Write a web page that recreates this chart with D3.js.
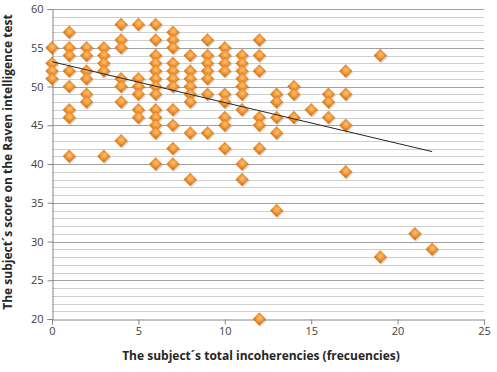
<!DOCTYPE html>
<html>
<head>
<meta charset="utf-8">
<script src="https://cdn.jsdelivr.net/npm/d3@7"></script>
<style>
  body { margin: 0; background: #fff; }
  text { font-family: "Open Sans", "Liberation Sans", sans-serif; }
</style>
</head>
<body>
<div id="chart"></div>
<script>
var incoherencies = [0, 1, 2, 3, 4, 5, 6, 7, 8, 9, 10, 11, 12, 13, 14, 15, 16, 17, 19, 21, 22];
var ravenScores = [
  [55, 53, 52, 51],
  [57, 55, 54, 52, 50, 47, 46, 41],
  [55, 54, 52, 51, 49, 48],
  [55, 54, 53, 52, 41],
  [58, 56, 55, 51, 50, 48, 43],
  [58, 51, 50, 49, 47, 46],
  [58, 56, 54, 53, 52, 51, 50, 49, 47, 46, 45, 44, 40],
  [57, 56, 55, 53, 52, 51, 50, 47, 45, 42, 40],
  [54, 52, 51, 50, 49, 48, 44, 38],
  [56, 54, 53, 52, 51, 49, 44],
  [55, 54, 53, 52, 49, 48, 46, 45, 42],
  [54, 53, 52, 51, 50, 49, 47, 40, 38],
  [56, 54, 52, 46, 45, 42, 20],
  [49, 48, 46, 44, 34],
  [50, 49, 46],
  [47],
  [49, 48, 46],
  [52, 49, 45, 39],
  [54, 28],
  [31],
  [29]
];
// linear trend line end points
var trendX = [0, 22];
var trendY = [53.2, 41.6];

var xTicks = [0, 5, 10, 15, 20, 25];
var yTicks = [20, 25, 30, 35, 40, 45, 50, 55, 60];

var margin = {top: 9, right: 13, bottom: 53, left: 52},
    width = 497 - margin.left - margin.right,
    height = 372 - margin.top - margin.bottom;

var svg = d3.select("#chart")
  .append("svg")
  .attr("width", 497)
  .attr("height", 372);

var g = svg.append("g")
  .attr("transform", "translate(" + margin.left + "," + margin.top + ")");

var x = d3.scaleLinear().domain([0, 25]).range([0, width]);
var y = d3.scaleLinear().domain([20, 60]).range([height, 0]);

// minor gridlines (every unit)
g.append("g")
  .selectAll("line")
  .data(d3.range(21, 60))
  .enter()
  .append("line")
  .attr("x1", 0).attr("x2", width)
  .attr("y1", function(d) { return Math.round(y(d)) + 0.5; })
  .attr("y2", function(d) { return Math.round(y(d)) + 0.5; })
  .attr("stroke", "#cfcfcf")
  .attr("stroke-width", 1);

// major gridlines
g.append("g")
  .selectAll("line")
  .data(yTicks.slice(1))
  .enter()
  .append("line")
  .attr("x1", 0).attr("x2", width)
  .attr("y1", function(d) { return Math.round(y(d)) + 0.5; })
  .attr("y2", function(d) { return Math.round(y(d)) + 0.5; })
  .attr("stroke", "#a0a0a0")
  .attr("stroke-width", 1);

// y axis
var yAxis = g.append("g")
  .attr("transform", "translate(0.5,0)")
  .call(d3.axisLeft(y).tickValues(yTicks).tickSize(5).tickPadding(4));
yAxis.select(".domain").attr("stroke", "#868686");
yAxis.selectAll(".tick line").attr("stroke", "#868686");
yAxis.selectAll("text").style("font-size", "11px").attr("fill", "#404040");

// x axis
var xAxis = g.append("g")
  .attr("transform", "translate(0," + (Math.round(height) + 0.5) + ")")
  .call(d3.axisBottom(x).tickValues(xTicks).tickSize(5).tickPadding(3));
xAxis.select(".domain").attr("stroke", "#868686");
xAxis.selectAll(".tick line").attr("stroke", "#868686");
xAxis.selectAll("text").style("font-size", "11px").attr("fill", "#404040");

// axis titles
g.append("text")
  .attr("x", width / 2 - 7)
  .attr("y", height + 41)
  .attr("text-anchor", "middle")
  .style("font-size", "12px")
  .attr("font-weight", "bold")
  .attr("fill", "#262626")
  .text("The subject´s total incoherencies (frecuencies)");

g.append("text")
  .attr("transform", "rotate(-90)")
  .attr("x", -height / 2 + 2)
  .attr("y", -40)
  .attr("text-anchor", "middle")
  .style("font-size", "12px")
  .attr("font-weight", "bold")
  .attr("fill", "#262626")
  .text("The subject´s score on the Raven intelligence test");

// diamond marker gradient
var defs = svg.append("defs");
var grad = defs.append("radialGradient")
  .attr("id", "dia")
  .attr("cx", "45%").attr("cy", "40%").attr("r", "65%");
grad.append("stop").attr("offset", "0%").attr("stop-color", "#fbc27a");
grad.append("stop").attr("offset", "55%").attr("stop-color", "#f39a3a");
grad.append("stop").attr("offset", "100%").attr("stop-color", "#d57418");

var points = [];
incoherencies.forEach(function(xv, i) {
  ravenScores[i].forEach(function(s) { points.push({x: xv, y: s}); });
});

var diamond = d3.symbol().type(d3.symbolSquare).size(82);

// shadows
g.append("g")
  .selectAll("path")
  .data(points)
  .enter()
  .append("path")
  .attr("d", diamond)
  .attr("transform", function(d) { return "translate(" + (x(d.x) + 1) + "," + (y(d.y) + 1.5) + ") rotate(45)"; })
  .attr("fill", "#000")
  .attr("opacity", 0.15);

g.append("g")
  .selectAll("path")
  .data(points)
  .enter()
  .append("path")
  .attr("d", diamond)
  .attr("transform", function(d) { return "translate(" + x(d.x) + "," + y(d.y) + ") rotate(45)"; })
  .attr("fill", "url(#dia)")
  .attr("stroke", "#e08a2c")
  .attr("stroke-width", 0.5);

// trend line
var line = d3.line()
  .x(function(d) { return x(d[0]); })
  .y(function(d) { return y(d[1]); });
g.append("path")
  .datum(d3.zip(trendX, trendY))
  .attr("d", line)
  .attr("fill", "none")
  .attr("stroke", "#262626")
  .attr("stroke-width", 1);
</script>
</body>
</html>
